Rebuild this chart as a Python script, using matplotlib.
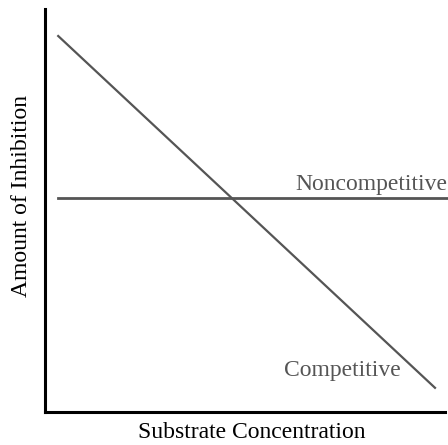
import matplotlib
matplotlib.use("Agg")
import matplotlib.pyplot as plt

# line end points (x: substrate concentration, y: amount of inhibition)
competitive_x = [0.33, 9.75]
competitive_y = [9.33, 0.60]
noncompetitive_x = [0.33, 10.05]
noncompetitive_y = [5.32, 5.32]

labels = ["Competitive", "Noncompetitive"]

plt.rcParams["font.family"] = ["Liberation Serif", "DejaVu Serif"]

fig = plt.figure(figsize=(4.48, 4.45), dpi=100)
ax = fig.add_axes([45 / 448, 33 / 445, 400 / 448, 403 / 445])

line_col = "#555555"
ax.plot(competitive_x, competitive_y, color=line_col, lw=1.6, clip_on=False)
ax.plot(noncompetitive_x, noncompetitive_y, color=line_col, lw=2.0, clip_on=False)

ax.text(10.05, 5.5, labels[1], color="#555555", fontsize=17,
        ha="right", va="baseline")
ax.text(7.43, 1.04, labels[0], color="#555555", fontsize=17,
        ha="center", va="center")

ax.set_xlim(0, 10)
ax.set_ylim(0, 10)
ax.set_xticks([])
ax.set_yticks([])
for s in ("top", "right"):
    ax.spines[s].set_visible(False)
for s in ("left", "bottom"):
    ax.spines[s].set_linewidth(2.2)
    ax.spines[s].set_color("black")

ax.set_xlabel("Substrate Concentration", fontsize=17, va="center")
ax.set_ylabel("Amount of Inhibition", fontsize=17, va="center")
ax.xaxis.set_label_coords(0.516, -0.052)
ax.yaxis.set_label_coords(-0.0575, 0.536)

fig.savefig("out.png", dpi=100)
